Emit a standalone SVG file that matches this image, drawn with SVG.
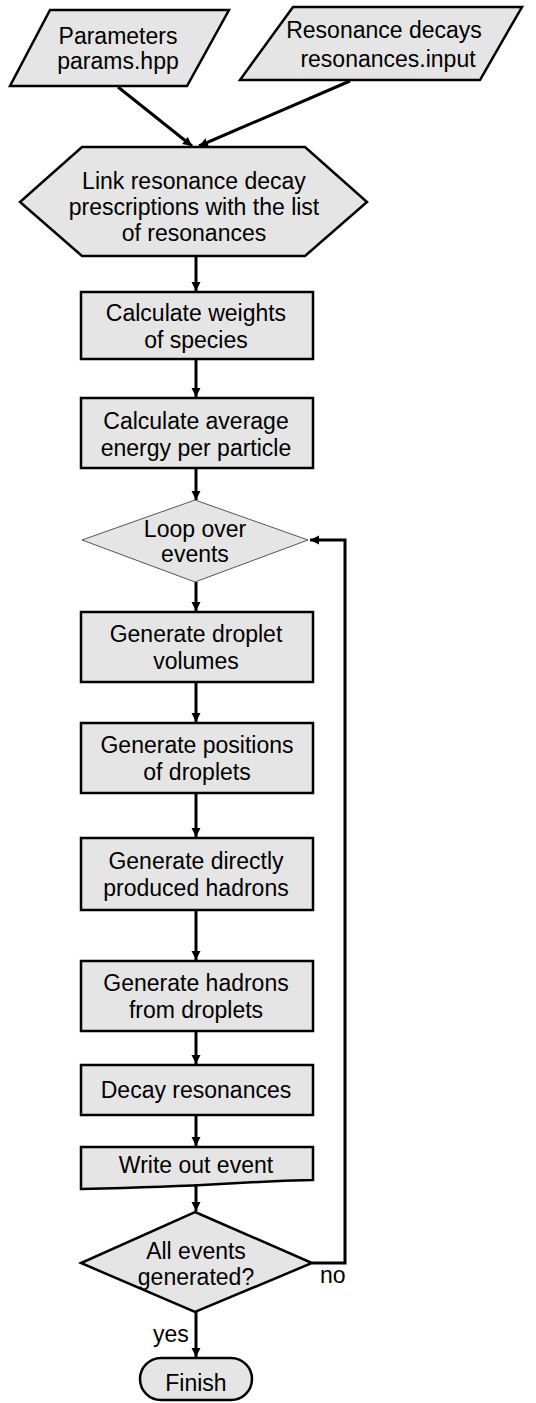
<svg xmlns="http://www.w3.org/2000/svg" width="536" height="1403" viewBox="0 0 536 1403">
<defs>
<style>
.n{fill:#e5e5e5;stroke:#000;stroke-width:2.5;stroke-linejoin:miter}
.thin{fill:#e5e5e5;stroke:#555;stroke-width:1}
.t{font-family:"Liberation Sans",Arial,Helvetica,sans-serif;font-size:23px;fill:#000;text-anchor:middle}
.c{fill:none;stroke:#000;stroke-width:3}
.lbl{font-family:"Liberation Sans",Arial,Helvetica,sans-serif;font-size:23px;fill:#000}
</style>
<marker id="ah" viewBox="0 0 10 10" refX="10" refY="5" markerUnits="userSpaceOnUse" markerWidth="9" markerHeight="10" orient="auto">
<path d="M0,0 L10,5 L0,10 z" fill="#000"/>
</marker>
</defs>
<rect width="536" height="1403" fill="#fff"/>
<g id="connectors">
<line class="c" x1="118" y1="87" x2="192" y2="146" marker-end="url(#ah)"/>
<line class="c" x1="350" y1="81" x2="199" y2="146" marker-end="url(#ah)"/>
<line class="c" x1="196" y1="256" x2="196" y2="291" marker-end="url(#ah)"/>
<line class="c" x1="196" y1="359" x2="196" y2="397" marker-end="url(#ah)"/>
<line class="c" x1="196" y1="468" x2="196" y2="500" marker-end="url(#ah)"/>
<line class="c" x1="196" y1="582" x2="196" y2="611" marker-end="url(#ah)"/>
<line class="c" x1="196" y1="682" x2="196" y2="722" marker-end="url(#ah)"/>
<line class="c" x1="196" y1="793" x2="196" y2="837" marker-end="url(#ah)"/>
<line class="c" x1="196" y1="910" x2="196" y2="960" marker-end="url(#ah)"/>
<line class="c" x1="196" y1="1031" x2="196" y2="1064" marker-end="url(#ah)"/>
<line class="c" x1="196" y1="1115" x2="196" y2="1146" marker-end="url(#ah)"/>
<line class="c" x1="196" y1="1186" x2="196" y2="1211" marker-end="url(#ah)"/>
<line class="c" x1="196" y1="1312" x2="196" y2="1357" marker-end="url(#ah)"/>
<polyline class="c" points="312,1263 345,1263 345,540 310,540" marker-end="url(#ah)"/>
<text class="lbl" x="320" y="1283">no</text>
<text class="lbl" x="153" y="1342">yes</text>
</g>
<g id="params">
<polygon class="n" points="50,10 229,10 187,86 10,86"/>
<text class="t" x="118" y="44">Parameters</text>
<text class="t" x="118" y="69">params.hpp</text>
</g>
<g id="resonances">
<polygon class="n" points="293,7 522,7 480,80 240,80"/>
<text class="t" x="384" y="38">Resonance decays</text>
<text class="t" x="388" y="67">resonances.input</text>
</g>
<g id="link">
<polygon class="n" points="82,147 305,147 367,202 305,256 82,256 20,202"/>
<text class="t" x="194" y="189">Link resonance decay</text>
<text class="t" x="194" y="215">prescriptions with the list</text>
<text class="t" x="194" y="241">of resonances</text>
</g>
<g id="weights">
<rect class="n" x="81" y="292" width="232" height="67"/>
<text class="t" x="196" y="321">Calculate weights</text>
<text class="t" x="196" y="348">of species</text>
</g>
<g id="energy">
<rect class="n" x="81" y="398" width="232" height="70"/>
<text class="t" x="196" y="429">Calculate average</text>
<text class="t" x="196" y="456">energy per particle</text>
</g>
<g id="loop">
<polygon class="thin" points="195,500 308,540 195,582 82,540"/>
<text class="t" x="195" y="537">Loop over</text>
<text class="t" x="195" y="562">events</text>
</g>
<g id="volumes">
<rect class="n" x="81" y="612" width="232" height="70"/>
<text class="t" x="196" y="642">Generate droplet</text>
<text class="t" x="196" y="669">volumes</text>
</g>
<g id="positions">
<rect class="n" x="81" y="723" width="232" height="70"/>
<text class="t" x="197" y="753">Generate positions</text>
<text class="t" x="197" y="780">of droplets</text>
</g>
<g id="direct">
<rect class="n" x="81" y="838" width="232" height="72"/>
<text class="t" x="196" y="869">Generate directly</text>
<text class="t" x="196" y="896">produced hadrons</text>
</g>
<g id="fromdroplets">
<rect class="n" x="81" y="961" width="232" height="70"/>
<text class="t" x="196" y="991">Generate hadrons</text>
<text class="t" x="196" y="1018">from droplets</text>
</g>
<g id="decay">
<rect class="n" x="81" y="1065" width="232" height="50"/>
<text class="t" x="196" y="1098">Decay resonances</text>
</g>
<g id="writeout">
<path class="n" d="M81,1147 H313 V1180 Q270,1181 220,1184 T81,1189 Z"/>
<text class="t" x="196" y="1173">Write out event</text>
</g>
<g id="allevents">
<polygon class="n" points="195,1212 312,1263 195,1312 81,1263"/>
<text class="t" x="196" y="1259">All events</text>
<text class="t" x="196" y="1285">generated?</text>
</g>
<g id="finish">
<rect class="n" x="140" y="1358" width="112" height="42" rx="21" ry="21"/>
<text class="t" x="196" y="1391">Finish</text>
</g>
</svg>
